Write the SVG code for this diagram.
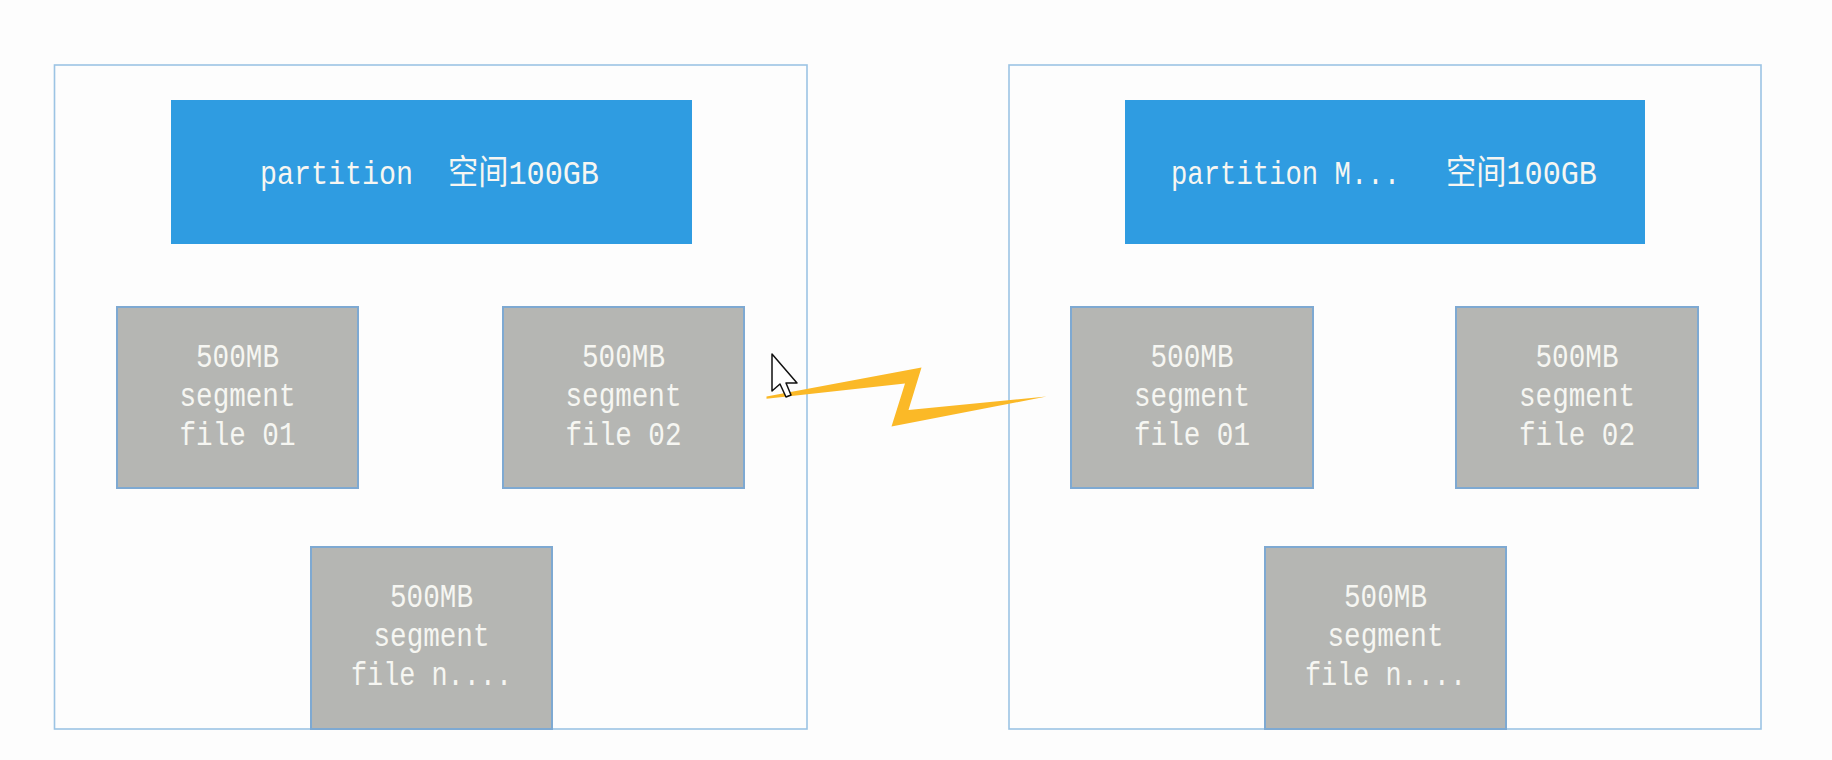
<svg xmlns="http://www.w3.org/2000/svg" width="1832" height="760" viewBox="0 0 1832 760">
<style>
.container{fill:none;stroke:#9cc4e4;stroke-width:1.6}
.part{fill:#2f9ce1}
.seg{fill:#b5b6b3;stroke:#7ea9d2;stroke-width:2}
.t{font-family:"Liberation Mono","Noto Sans CJK SC",monospace;font-size:34px;fill:#f6f6f2}
.bolt{fill:#fbb927}
</style>
<rect width="1832" height="760" fill="#fdfdfd"/>
<g id="partition-left">
<rect class="container" x="54.5" y="65" width="752.5" height="664"/>
<g id="partition-left-header">
<rect class="part" x="171" y="100" width="521" height="144"/>
<text class="t" x="260" y="184" textLength="153" lengthAdjust="spacingAndGlyphs">partition</text>
<text class="t" x="448" y="184" textLength="151" lengthAdjust="spacingAndGlyphs">空间100GB</text>
</g>
</g>
<g id="left-seg-01">
<rect class="seg" x="117" y="307" width="241" height="181"/>
<text class="t" x="237.5" y="367" text-anchor="middle" textLength="83" lengthAdjust="spacingAndGlyphs">500MB</text>
<text class="t" x="237.5" y="406" text-anchor="middle" textLength="116" lengthAdjust="spacingAndGlyphs">segment</text>
<text class="t" x="237.5" y="445" text-anchor="middle" textLength="116" lengthAdjust="spacingAndGlyphs">file 01</text>
</g>
<g id="left-seg-02">
<rect class="seg" x="503" y="307" width="241" height="181"/>
<text class="t" x="623.5" y="367" text-anchor="middle" textLength="83" lengthAdjust="spacingAndGlyphs">500MB</text>
<text class="t" x="623.5" y="406" text-anchor="middle" textLength="116" lengthAdjust="spacingAndGlyphs">segment</text>
<text class="t" x="623.5" y="445" text-anchor="middle" textLength="116" lengthAdjust="spacingAndGlyphs">file 02</text>
</g>
<g id="left-seg-n">
<rect class="seg" x="311" y="547" width="241" height="182"/>
<text class="t" x="431.5" y="607" text-anchor="middle" textLength="83" lengthAdjust="spacingAndGlyphs">500MB</text>
<text class="t" x="431.5" y="646" text-anchor="middle" textLength="116" lengthAdjust="spacingAndGlyphs">segment</text>
<text class="t" x="431.5" y="685" text-anchor="middle" textLength="161" lengthAdjust="spacingAndGlyphs">file n....</text>
</g>
<g id="partition-right">
<rect class="container" x="1009" y="65" width="752" height="664"/>
<g id="partition-right-header">
<rect class="part" x="1125" y="100" width="520" height="144"/>
<text class="t" x="1171" y="184" textLength="229" lengthAdjust="spacingAndGlyphs">partition M...</text>
<text class="t" x="1446" y="184" textLength="151" lengthAdjust="spacingAndGlyphs">空间100GB</text>
</g>
</g>
<g id="right-seg-01">
<rect class="seg" x="1071" y="307" width="242" height="181"/>
<text class="t" x="1192" y="367" text-anchor="middle" textLength="83" lengthAdjust="spacingAndGlyphs">500MB</text>
<text class="t" x="1192" y="406" text-anchor="middle" textLength="116" lengthAdjust="spacingAndGlyphs">segment</text>
<text class="t" x="1192" y="445" text-anchor="middle" textLength="116" lengthAdjust="spacingAndGlyphs">file 01</text>
</g>
<g id="right-seg-02">
<rect class="seg" x="1456" y="307" width="242" height="181"/>
<text class="t" x="1577" y="367" text-anchor="middle" textLength="83" lengthAdjust="spacingAndGlyphs">500MB</text>
<text class="t" x="1577" y="406" text-anchor="middle" textLength="116" lengthAdjust="spacingAndGlyphs">segment</text>
<text class="t" x="1577" y="445" text-anchor="middle" textLength="116" lengthAdjust="spacingAndGlyphs">file 02</text>
</g>
<g id="right-seg-n">
<rect class="seg" x="1265" y="547" width="241" height="182"/>
<text class="t" x="1385.5" y="607" text-anchor="middle" textLength="83" lengthAdjust="spacingAndGlyphs">500MB</text>
<text class="t" x="1385.5" y="646" text-anchor="middle" textLength="116" lengthAdjust="spacingAndGlyphs">segment</text>
<text class="t" x="1385.5" y="685" text-anchor="middle" textLength="161" lengthAdjust="spacingAndGlyphs">file n....</text>
</g>
<g id="connectors">
<path class="bolt" d="M766.5,396.5 L921.5,367.5 L908.5,410 L1046.5,396.5 L891.5,426.5 L905,383.5 L766.5,398.8 Z"/>
</g>
<path d="M772,354 L772,391 L780,384 L786,397 L791,395 L786,383 L797,383 Z" fill="#ffffff" stroke="#111111" stroke-width="1.5" stroke-linejoin="round"/>
</svg>
